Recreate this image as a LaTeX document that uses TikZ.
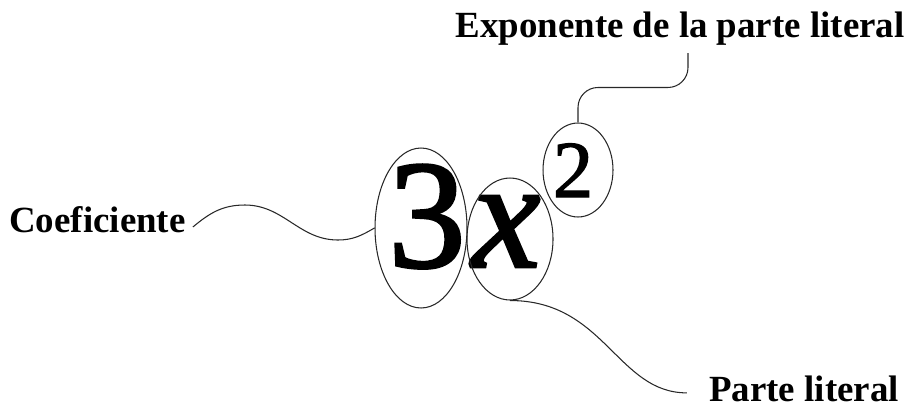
\documentclass[tikz,border=0pt]{standalone}
\usepackage{fontspec}
\setmainfont{Liberation Serif}
\usepackage{tikz}
\usetikzlibrary{positioning,calc,shapes.geometric}
\definecolor{trazo}{RGB}{40,40,40}
% Tipos algo mas gruesos para el monomio
\font\grandes="Liberation Serif:embolden=1.8" at 88pt
\font\grandesit="Liberation Serif/I:embolden=1.8" at 88pt
\font\medianos="Liberation Serif:embolden=1.5" at 46pt

\begin{document}
\begin{tikzpicture}[x=0.02cm, y=0.02cm,
    etiqueta/.style={inner sep=0pt, font=\fontsize{21}{25}\selectfont\bfseries},
    cifra/.style={inner sep=0pt, anchor=base},
    ovalo/.style={draw=trazo, ellipse, inner sep=0pt, line width=0.6pt},
    enlace/.style={draw=trazo, line width=0.6pt}]
  \useasboundingbox (0,0) rectangle (911,407);
  % Monomio : coeficiente, parte literal y exponente
  \node[cifra, font=\grandes] (tres) at (427,140) {3};
  \node[cifra, font=\grandesit] (equis) at (506,140) {x};
  \node[cifra, font=\medianos] (dos) at (573,210) {2};
  % Ovalos alrededor de cada parte del monomio
  \node[ovalo, minimum width=1.84cm, minimum height=3.2cm] (c3) at (421,179) {};
  \node[ovalo, minimum width=1.72cm, minimum height=2.44cm] (cx) at (510,168) {};
  \node[ovalo, minimum width=1.4cm, minimum height=1.88cm] (c2) at (578,237) {};
  % Etiquetas
  \node[etiqueta, anchor=base west] (coef) at (9,175) {Coeficiente};
  \node[etiqueta, anchor=base] (expo) at (680,370) {Exponente de la parte literal};
  \node[etiqueta, anchor=base] (parte) at (804,6) {Parte literal};
  % Lineas de enlace entre etiquetas y ovalos
  \draw[enlace] ([xshift=.14cm,yshift=.1cm]coef.base east)
    to[out=40,in=180] ++(52,22) to[out=0,in=180] ++(93,-35)
    to[out=0,in=210] (c3.west);
  \draw[enlace, rounded corners=0.4cm] (c2.north) -- ++(0,35)
    -| ([xshift=.16cm,yshift=-.16cm]expo.south);
  \draw[enlace] (cx.south) .. controls +(95,0) and +(-70,0)
    .. ([xshift=-.44cm,yshift=-.09cm]parte.west);
\end{tikzpicture}
\end{document}
